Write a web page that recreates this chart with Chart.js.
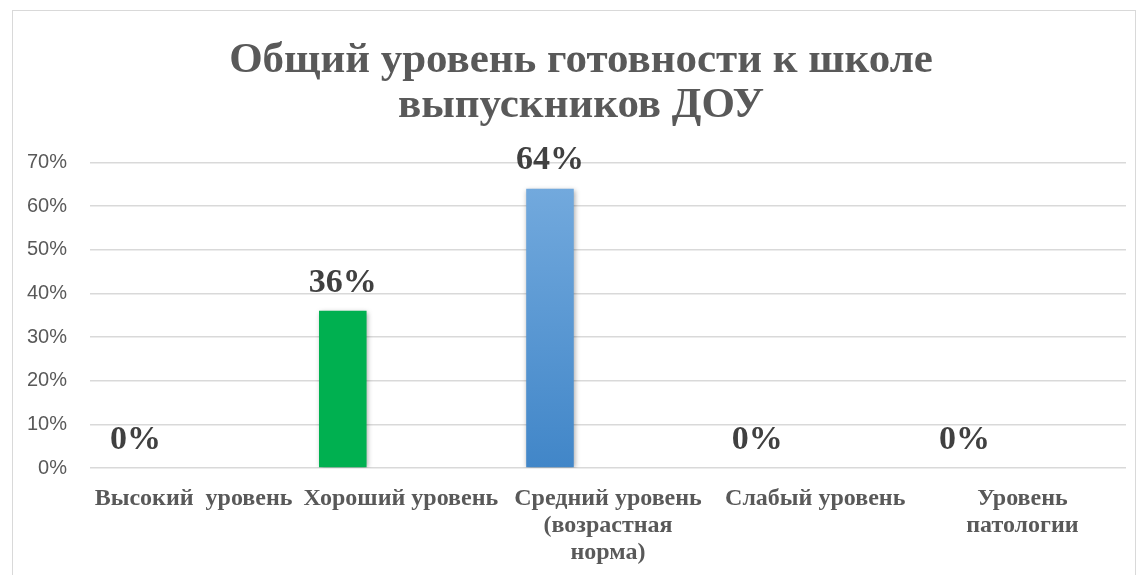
<!DOCTYPE html>
<html>
<head>
<meta charset="utf-8">
<script src="https://cdn.jsdelivr.net/npm/chart.js@4"></script>
<style>
  html, body { margin: 0; padding: 0; background: #fff; overflow: hidden; }
  #frame { position: absolute; left: 12px; top: 10px; width: 1122px; height: 600px; border: 1px solid #d9d9d9; }
  #wrap { position: absolute; left: 0; top: 0; width: 1142px; height: 575px; }
</style>
</head>
<body>
<div id="frame"></div>
<div id="wrap"><canvas id="readiness-chart"></canvas></div>
<script>
const categories = [
    ['Высокий  уровень'],
    ['Хороший уровень'],
    ['Средний уровень', '(возрастная', 'норма)'],
    ['Слабый уровень'],
    ['Уровень', 'патологии']
];
const values = [0, 36, 64, 0, 0];
const emptySeries = [null, null, null, null, null];
const yTicks = [0, 10, 20, 30, 40, 50, 60, 70];

const serif = "'Liberation Serif', 'Times New Roman', serif";

function barColor(c) {
    if (c.dataIndex !== 2) return '#00b050';
    const chart = c.chart;
    if (!chart.chartArea) return '#5b9bd5';
    const top = chart.scales.y.getPixelForValue(values[2]);
    const g = chart.ctx.createLinearGradient(0, top, 0, chart.chartArea.bottom);
    g.addColorStop(0, '#72a9dd');
    g.addColorStop(1, '#4186c8');
    return g;
}

// soft shadow under the bars, like the office chart
const barShadow = {
    id: 'barShadow',
    beforeDatasetsDraw(chart) {
        const ctx = chart.ctx;
        ctx.save();
        ctx.shadowColor = 'rgba(0,0,0,0.35)';
        ctx.shadowBlur = 5;
        ctx.shadowOffsetX = 1;
        ctx.shadowOffsetY = 1;
    },
    afterDatasetsDraw(chart) {
        chart.ctx.restore();
    }
};

// title sits a bit right of the canvas middle in the original
const titleShift = {
    id: 'titleShift',
    afterLayout(chart) {
        if (chart.titleBlock) chart.titleBlock.left += 36;
    }
};

const valueLabels = {
    id: 'valueLabels',
    afterDatasetsDraw(chart) {
        const ctx = chart.ctx;
        const meta = chart.getDatasetMeta(0);
        ctx.save();
        ctx.font = 'bold 34px ' + serif;
        ctx.fillStyle = '#404040';
        ctx.textAlign = 'center';
        ctx.textBaseline = 'middle';
        meta.data.forEach((bar, i) => {
            ctx.fillText(values[i] + '%', bar.x, bar.y - 28);
        });
        ctx.restore();
    }
};

let ctx = document.getElementById('readiness-chart');

var chart = new Chart(ctx, {
    type: 'bar',
    data: {
        labels: categories,
        datasets: [
            { data: values, backgroundColor: barColor },
            { data: emptySeries },
            { data: emptySeries }
        ]
    },
    options: {
        responsive: true,
        maintainAspectRatio: false,
        animation: false,
        categoryPercentage: 0.84,
        barPercentage: 0.82,
        layout: {
            padding: { top: 0, right: 16, bottom: 0, left: 0 }
        },
        scales: {
            y: {
                min: 0,
                max: 70,
                afterBuildTicks(scale) {
                    scale.ticks = yTicks.map(v => ({ value: v }));
                },
                afterFit(scale) { scale.width = 90; },
                ticks: {
                    padding: 23,
                    color: '#595959',
                    font: { family: "'Liberation Sans', Arial, sans-serif", size: 20 },
                    callback: v => v + '%'
                },
                grid: {
                    color: '#d9d9d9',
                    lineWidth: 1.5,
                    drawTicks: false
                },
                border: { display: false }
            },
            x: {
                afterFit(scale) { scale.height = 107; },
                ticks: {
                    padding: 17,
                    color: '#595959',
                    maxRotation: 0,
                    autoSkip: false,
                    font: { family: serif, size: 24, weight: 'bold', lineHeight: 1.13 }
                },
                grid: { display: false, drawTicks: false },
                border: { display: false }
            }
        },
        plugins: {
            legend: { display: false },
            tooltip: { enabled: false },
            title: {
                display: true,
                text: ['Общий уровень готовности к школе', 'выпускников ДОУ'],
                color: '#595959',
                font: { family: serif, size: 43, weight: 'bold', lineHeight: 1.04 },
                padding: { top: 39, bottom: 34 }
            }
        }
    },
    plugins: [barShadow, titleShift, valueLabels]
});
</script>
</body>
</html>
